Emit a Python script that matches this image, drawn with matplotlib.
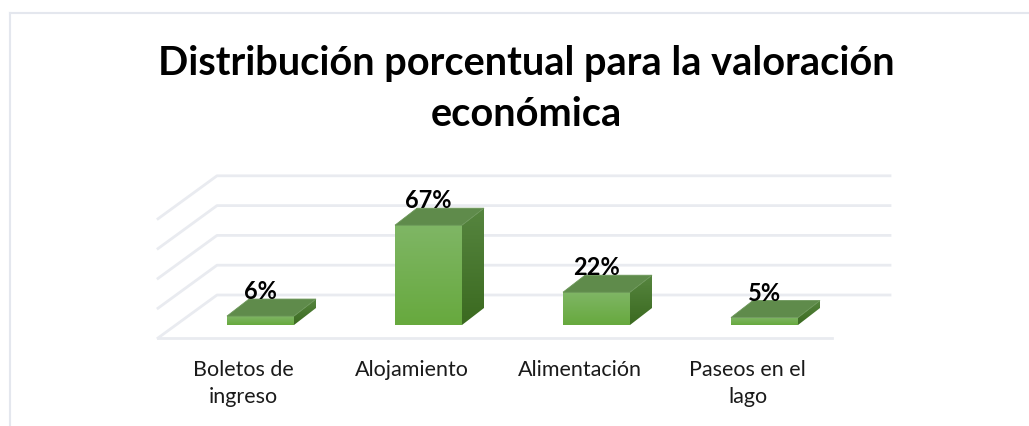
import numpy as np
import matplotlib
matplotlib.use('Agg')
import matplotlib.pyplot as plt
from matplotlib.colors import to_rgb
from matplotlib.patches import Polygon

categorias = ['Boletos de\ningreso', 'Alojamiento', 'Alimentación', 'Paseos en el\nlago']
valores = [6, 67, 22, 5]
etiquetas = ['6%', '67%', '22%', '5%']
grid_vals = [0, 20, 40, 60, 80]

plt.rcParams['font.family'] = ['Lato', 'DejaVu Sans']

W, H = 1029, 427
fig = plt.figure(figsize=(W / 100, H / 100), dpi=100)
ax = fig.add_axes([0, 0, 1, 1])

# escala: 168 px por categoria, 1.49 px por punto porcentual
px_x = 1 / 168
px_y = 1 / 1.49
X0, Y0 = 227, 326


def xp(px):
    return (px - X0) * px_x


def yp(px):
    return (Y0 - px) * px_y


ax.set_xlim(xp(0), xp(W))
ax.set_ylim(yp(H), yp(0))
ax.axis('off')

ancho = 67 * px_x
dx = 22 * px_x
dy = 17 * px_y


def degradado(extent, c1, c2, clip):
    t = np.linspace(0, 1, 64)[:, None, None]
    img = np.array(to_rgb(c1))[None, None, :] * (1 - t) + np.array(to_rgb(c2))[None, None, :] * t
    im = ax.imshow(img, extent=extent, aspect='auto', zorder=4, origin='upper')
    im.set_clip_path(clip)


# marco del grafico
marco = '#e4e7ee'
ax.plot([xp(10), xp(10)], [yp(427), yp(14)], color=marco, lw=1.5, zorder=1)
ax.plot([xp(10), xp(1029)], [yp(14), yp(14)], color=marco, lw=1.5, zorder=1)

# lineas de division
gris = '#e9ebf0'
base_atras = yp(296)
salto = 43 * px_y
for g in grid_vals:
    y = base_atras + g
    ax.plot([xp(158), xp(217), xp(890)], [y - salto, y, y], color=gris, lw=2, zorder=2)
ax.plot([xp(158), xp(832)], [base_atras - salto, base_atras - salto], color=gris, lw=2, zorder=2)

# barras
for i, v in enumerate(valores):
    l = i
    r = i + ancho
    frente = Polygon([(l, 0), (r, 0), (r, v), (l, v)], closed=True, fc='none', ec='none')
    lado = Polygon([(r, 0), (r + dx, dy), (r + dx, v + dy), (r, v)], closed=True, fc='none', ec='none')
    techo = Polygon([(l, v), (r, v), (r + dx, v + dy), (l + dx, v + dy)], closed=True,
                    fc='#5f8b4b', ec='#6b9658', lw=0.6, zorder=5)
    ax.add_patch(frente)
    ax.add_patch(lado)
    ax.add_patch(techo)
    degradado((l, r, 0, v), '#7fb665', '#67a93e', frente)
    degradado((r, r + dx, 0, v + dy), '#56853f', '#3b6a20', lado)
    ax.text(l + ancho / 2, v + dy - 3 * px_y, etiquetas[i], ha='center', va='bottom',
            fontsize=17, fontweight='bold', color='black', zorder=6)
    ax.text(i + ancho / 2 - 17 * px_x, yp(360), categorias[i],
            ha='center', va='top', fontsize=15.5, color='#1a1a1a', linespacing=1.42, zorder=6)

ax.text(xp(526), yp(89), 'Distribución porcentual para la valoración\neconómica',
        ha='center', va='center', fontsize=28.6, fontweight='bold', color='black', linespacing=1.46)

fig.savefig('out.png', dpi=100)
